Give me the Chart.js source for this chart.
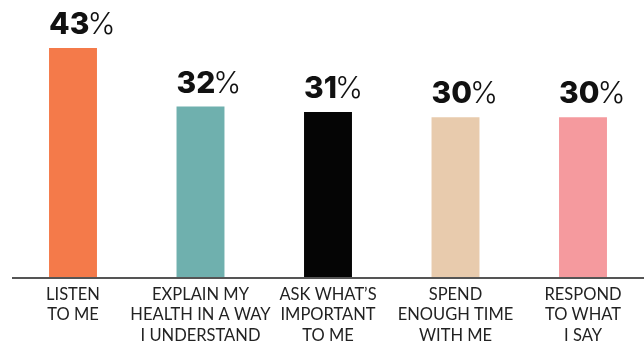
<!DOCTYPE html>
<html>
<head>
<meta charset="utf-8">
<script src="https://cdn.jsdelivr.net/npm/chart.js@4/dist/chart.umd.min.js"></script>
<style>
  html, body { margin: 0; padding: 0; background: #fff; overflow: hidden; }
  #wrap { width: 644px; height: 344px; overflow: hidden; position: relative; }
  #chart { position: absolute; left: 0; top: 0; }
</style>
</head>
<body>
<div id="wrap"><canvas id="chart" width="650" height="344"></canvas></div>
<script>
// what people want from their doctor
const labels = [
  ["LISTEN", "TO ME"],
  ["EXPLAIN MY", "HEALTH IN A WAY", "I UNDERSTAND"],
  ["ASK WHAT\u2019S", "IMPORTANT", "TO ME"],
  ["SPEND", "ENOUGH TIME", "WITH ME"],
  ["RESPOND", "TO WHAT", "I SAY"]
];
const values = [43, 32, 31, 30, 30];
const barColors = ["#f47a4a", "#6fb0ae", "#050505", "#e8cbad", "#f59a9e"];

// big number + thin percent sign above each bar, plus the base line
const valueLabels = {
  id: "valueLabels",
  afterDatasetsDraw(chart) {
    const c = chart.ctx;
    const meta = chart.getDatasetMeta(0);
    c.save();
    c.textBaseline = "alphabetic";
    c.textAlign = "left";
    meta.data.forEach((bar, i) => {
      const left = bar.x - bar.width / 2;
      const y = bar.y - 14;
      c.fillStyle = "#111";
      c.font = "800 30px Inter";
      const num = String(values[i]);
      c.fillText(num, left, y);
      const w = c.measureText(num).width;
      c.font = "300 30px Inter";
      c.fillText("%", left + w - 2, y);
    });
    // axis line
    c.strokeStyle = "#555";
    c.lineWidth = 2;
    c.beginPath();
    c.moveTo(12, chart.chartArea.bottom + 1);
    c.lineTo(chart.width, chart.chartArea.bottom + 1);
    c.stroke();
    c.restore();
  }
};

new Chart(document.getElementById("chart"), {
  type: "bar",
  data: {
    labels: labels,
    datasets: [{
      data: values,
      backgroundColor: barColors,
      barPercentage: 0.376,
      categoryPercentage: 1
    }]
  },
  options: {
    responsive: false,
    animation: false,
    layout: { padding: { left: 9.25, right: 3.25, top: 10.7, bottom: 0 } },
    plugins: { legend: { display: false }, tooltip: { enabled: false } },
    scales: {
      x: {
        grid: { display: false, drawTicks: false },
        border: { display: false },
        ticks: {
          color: "#222",
          padding: 7,
          font: { family: "Lato", size: 16.5, lineHeight: 1.25 },
          maxRotation: 0,
          autoSkip: false
        },
        afterFit(scale) { scale.height = 67; }
      },
      y: {
        display: false,
        min: 0,
        max: 50
      }
    }
  },
  plugins: [valueLabels]
});
</script>
</body>
</html>
